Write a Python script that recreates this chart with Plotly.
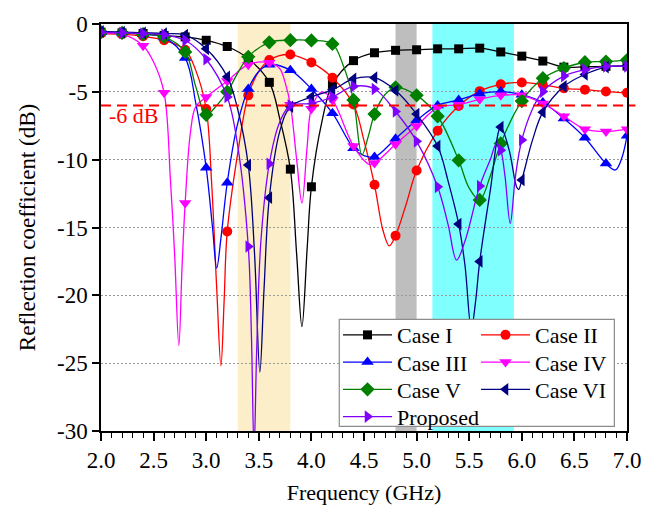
import plotly.graph_objects as go

SERIF = "Liberation Serif, Times New Roman, serif"

# ---- reflection coefficient data (frequency in GHz, S11 in dB) ----
case1_freq = [2.0, 2.2, 2.4, 2.6, 2.8, 3.0, 3.2, 3.4, 3.6, 3.7, 3.8, 3.86, 3.91, 3.96, 4.0, 4.1, 4.2,
              4.4, 4.6, 4.8, 5.0, 5.2, 5.4, 5.6, 5.8, 6.0, 6.2, 6.4, 6.6, 6.8, 7.0]
case1_db = [-0.6, -0.65, -0.7, -0.85, -0.95, -1.2, -1.66, -2.55, -4.3, -7.0, -10.7, -17.0, -22.3, -16.5,
            -12.0, -7.2, -4.45, -2.7, -2.12, -1.94, -1.9, -1.83, -1.83, -1.78, -2.06, -2.37, -2.73,
            -3.18, -3.15, -3.12, -3.1]

case2_freq = [2.0, 2.2, 2.4, 2.6, 2.8, 2.9, 3.0, 3.05, 3.1, 3.14, 3.17, 3.2, 3.3, 3.4, 3.5, 3.6, 3.8,
              4.0, 4.2, 4.4, 4.5, 4.6, 4.68, 4.74, 4.8, 4.9, 5.0, 5.2, 5.4, 5.6, 5.8, 6.0, 6.2, 6.4,
              6.6, 6.8, 7.0]
case2_db = [-0.7, -0.75, -0.9, -1.2, -1.9, -3.4, -6.27, -11.5, -19.5, -25.2, -20.5, -15.3, -9.5, -5.26,
            -3.5, -2.65, -2.25, -2.83, -3.96, -5.93, -8.6, -11.85, -15.2, -16.36, -15.6, -13.3, -10.8,
            -7.87, -6.05, -4.95, -4.45, -4.31, -4.48, -4.74, -4.84, -4.98, -5.07]

case3_freq = [2.0, 2.2, 2.4, 2.6, 2.8, 2.9, 3.0, 3.06, 3.1, 3.14, 3.2, 3.3, 3.4, 3.5, 3.6, 3.8, 4.0,
              4.2, 4.4, 4.5, 4.6, 4.8, 5.0, 5.2, 5.4, 5.6, 5.8, 6.0, 6.2, 6.4, 6.6, 6.8, 6.89, 6.95, 7.0]
case3_db = [-0.6, -0.65, -0.75, -1.0, -2.5, -5.8, -10.6, -15.0, -18.0, -15.8, -11.7, -7.3, -4.79, -3.5,
            -3.0, -3.4, -4.79, -6.57, -9.15, -9.7, -9.8, -8.45, -7.1, -6.0, -5.6, -5.14, -4.98, -5.21,
            -5.79, -6.97, -8.39, -10.29, -10.76, -9.9, -8.23]

case4_freq = [2.0, 2.2, 2.4, 2.5, 2.6, 2.66, 2.7, 2.74, 2.77, 2.8, 2.85, 2.9, 3.0, 3.2, 3.4, 3.6, 3.7,
              3.75, 3.8, 3.86, 3.91, 3.96, 4.0, 4.1, 4.2, 4.4, 4.55, 4.6, 4.8, 5.0, 5.2, 5.4, 5.6, 5.8,
              6.0, 6.2, 6.4, 6.6, 6.8, 7.0]
case4_db = [-0.7, -0.75, -1.6, -2.8, -5.07, -11.5, -17.0, -23.7, -18.0, -13.2, -8.0, -6.1, -5.38, -4.2,
            -3.0, -2.85, -3.3, -4.3, -5.95, -10.0, -13.2, -9.0, -6.25, -5.0, -5.6, -9.0, -10.35, -10.25,
            -8.87, -7.52, -6.16, -5.95, -5.55, -5.26, -5.26, -5.86, -6.8, -7.75, -7.92, -7.75]

case5_freq = [2.0, 2.2, 2.4, 2.6, 2.8, 2.9, 3.0, 3.1, 3.2, 3.4, 3.6, 3.8, 4.0, 4.2, 4.3, 4.4, 4.48,
              4.54, 4.6, 4.7, 4.8, 5.0, 5.2, 5.4, 5.5, 5.6, 5.7, 5.8, 6.0, 6.2, 6.4, 6.6, 6.8, 7.0]
case5_db = [-0.6, -0.65, -0.75, -0.95, -2.06, -4.6, -6.69, -6.0, -5.0, -2.42, -1.35, -1.19, -1.21, -1.47,
            -3.0, -5.6, -9.65, -8.3, -6.64, -5.2, -4.67, -5.26, -6.8, -10.05, -12.1, -12.97, -11.2, -8.8,
            -5.68, -4.0, -3.25, -2.82, -2.77, -2.66]

case6_freq = [2.0, 2.2, 2.4, 2.6, 2.8, 3.0, 3.2, 3.3, 3.4, 3.46, 3.51, 3.55, 3.6, 3.7, 3.8, 4.0, 4.2,
              4.4, 4.6, 4.8, 5.0, 5.2, 5.3, 5.4, 5.46, 5.52, 5.56, 5.6, 5.7, 5.8, 5.88, 5.95, 5.97, 6.0,
              6.1, 6.2, 6.4, 6.6, 6.8, 7.0]
case6_db = [-0.55, -0.6, -0.65, -0.7, -0.81, -1.83, -3.89, -6.3, -10.4, -17.0, -25.65, -19.5, -12.8,
            -7.9, -6.1, -5.38, -4.85, -4.05, -3.96, -4.9, -6.64, -9.0, -11.6, -14.75, -17.8, -22.5, -20.5,
            -17.5, -12.3, -7.6, -9.3, -12.0, -12.2, -11.5, -8.6, -6.5, -4.6, -3.72, -3.18, -3.08]

proposed_freq = [2.0, 2.2, 2.4, 2.6, 2.8, 3.0, 3.2, 3.3, 3.4, 3.43, 3.455, 3.48, 3.52, 3.6, 3.7, 3.8,
                 4.0, 4.2, 4.4, 4.6, 4.8, 5.0, 5.2, 5.3, 5.38, 5.46, 5.6, 5.7, 5.76, 5.8, 5.84, 5.89,
                 5.94, 6.0, 6.1, 6.2, 6.4, 6.6, 6.8, 7.0]
proposed_db = [-0.6, -0.65, -0.7, -0.8, -1.2, -2.6, -5.38, -9.0, -16.4, -23.0, -31.5, -24.0, -16.0,
               -10.3, -7.2, -6.0, -5.86, -5.38, -4.6, -4.79, -6.45, -8.65, -12.0, -14.8, -17.4, -16.0,
               -11.95, -10.0, -8.8, -9.3, -11.2, -14.7, -11.2, -8.55, -6.3, -4.98, -3.84, -3.37, -3.13,
               -3.13]

# operating bands (GHz)
band_n78 = [3.3, 3.8]
band_n79 = [4.8, 5.0]
band_wlan = [5.15, 5.925]
threshold_db = -6

x_tickvals = [2.0, 2.5, 3.0, 3.5, 4.0, 4.5, 5.0, 5.5, 6.0, 6.5, 7.0]
x_ticktext = ["2.0", "2.5", "3.0", "3.5", "4.0", "4.5", "5.0", "5.5", "6.0", "6.5", "7.0"]
y_tickvals = [0, -5, -10, -15, -20, -25, -30]
y_ticktext = ["0", "-5", "-10", "-15", "-20", "-25", "-30"]

series = [
    ("Case I", case1_freq, case1_db, "#000000", "square", 9),
    ("Case II", case2_freq, case2_db, "#FF0000", "circle", 10),
    ("Case III", case3_freq, case3_db, "#0000FF", "triangle-up", 11),
    ("Case IV", case4_freq, case4_db, "#FF00FF", "triangle-down", 11),
    ("Case V", case5_freq, case5_db, "#008000", "diamond", 11),
    ("Case VI", case6_freq, case6_db, "#000080", "triangle-left", 11),
    ("Proposed", proposed_freq, proposed_db, "#8000FF", "triangle-right", 11),
]

# legend slot for each entry: (legend id, x paper, y paper) -- two columns inside one framed box
col_x = [0.4506, 0.7129]
row_y = [0.2357, 0.1688, 0.1019, 0.0350]
legend_slots = {
    "Case I": ("legend", col_x[0], row_y[0]),
    "Case II": ("legend2", col_x[1], row_y[0]),
    "Case III": ("legend3", col_x[0], row_y[1]),
    "Case IV": ("legend4", col_x[1], row_y[1]),
    "Case V": ("legend5", col_x[0], row_y[2]),
    "Case VI": ("legend6", col_x[1], row_y[2]),
    "Proposed": ("legend7", col_x[0], row_y[3]),
}

fig = go.Figure()

for name, freq, db, color, symbol, msize in series:
    # smooth response curve
    fig.add_trace(go.Scatter(
        x=freq, y=db, mode="lines",
        line=dict(color=color, width=1.3, shape="spline", smoothing=1.0),
        showlegend=False, hoverinfo="skip",
    ))
    # markers every 0.2 GHz
    mx = [f for f in freq if abs(f * 5 - round(f * 5)) < 1e-6]
    my = [d for f, d in zip(freq, db) if abs(f * 5 - round(f * 5)) < 1e-6]
    fig.add_trace(go.Scatter(
        x=mx, y=my, mode="markers",
        marker=dict(symbol=symbol, size=msize, color=color, line=dict(width=0)),
        showlegend=False, name=name,
    ))
    lid = legend_slots[name][0]
    fig.add_trace(go.Scatter(
        x=[None], y=[None], mode="lines+markers", name=name,
        line=dict(color=color, width=1.3),
        marker=dict(symbol=symbol, size=msize, color=color, line=dict(width=0)),
        showlegend=True, legend=lid,
    ))

# shaded bands, drawn between gridlines and traces
for (f0, f1), fill in [(band_n78, "#FCEEC8"), (band_n79, "#BEBEBE"), (band_wlan, "#80FFFF")]:
    fig.add_shape(type="rect", xref="x", yref="paper", x0=f0, x1=f1, y0=0, y1=1,
                  fillcolor=fill, line=dict(width=0), layer="between")

# -6 dB reference line
fig.add_shape(type="line", xref="paper", yref="y", x0=0, x1=1.016, y0=threshold_db, y1=threshold_db,
              line=dict(color="#FF0000", width=2, dash="10px,6px"), layer="above")
fig.add_annotation(x=2.055, y=-6.75, xref="x", yref="y", text="-6 dB", showarrow=False,
                   xanchor="left", yanchor="middle", font=dict(family=SERIF, size=22, color="#FF0000"))

# legend frame
fig.add_shape(type="rect", xref="paper", yref="paper", x0=0.453, x1=0.976, y0=0.0114, y1=0.2745,
              fillcolor="white", line=dict(color="#8C8C8C", width=1.2), layer="above")

legend_layouts = {}
for name, (lid, lx, ly) in legend_slots.items():
    legend_layouts[lid] = dict(
        x=lx, y=ly, xanchor="left", yanchor="middle", bgcolor="rgba(0,0,0,0)", borderwidth=0,
        itemwidth=49, font=dict(family=SERIF, size=22, color="black"), tracegroupgap=0,
    )
fig.update_layout(**legend_layouts)

fig.update_layout(
    width=657, height=513,
    margin=dict(l=101, r=30, t=16, b=75),
    paper_bgcolor="white", plot_bgcolor="white",
    font=dict(family=SERIF, size=22, color="black"),
    xaxis=dict(
        range=[2, 7], tickmode="array", tickvals=x_tickvals, ticktext=x_ticktext,
        ticks="outside", ticklen=8, tickwidth=1.5, tickcolor="black",
        showline=True, linewidth=1.5, linecolor="black", mirror=True,
        showgrid=False, zeroline=False,
        minor=dict(dtick=0.1, tick0=2.0, ticks="outside", ticklen=5, tickwidth=1.2,
                   tickcolor="black", showgrid=False),
        title=dict(text="Frequency (GHz)", font=dict(family=SERIF, size=22), standoff=12),
        tickfont=dict(family=SERIF, size=23),
    ),
    yaxis=dict(
        range=[-30, 0], tickmode="array", tickvals=y_tickvals, ticktext=y_ticktext,
        ticks="outside", ticklen=7, tickwidth=1.5, tickcolor="black",
        showline=True, linewidth=1.5, linecolor="black", mirror=True,
        showgrid=True, gridcolor="#9A9A9A", gridwidth=1, griddash="1.5px,2.5px", zeroline=False,
        title=dict(text="Reflection coefficient (dB)", font=dict(family=SERIF, size=23)),
        tickfont=dict(family=SERIF, size=23),
    ),
)

fig.write_html("out.html")
